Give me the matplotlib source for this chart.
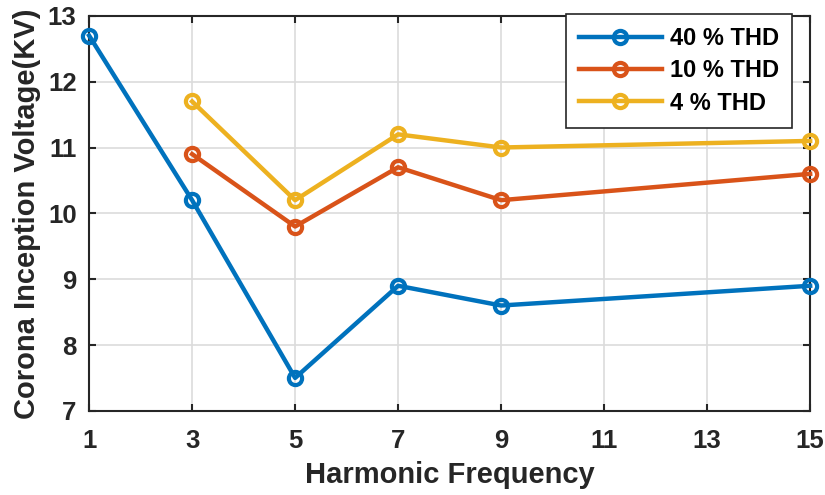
import matplotlib
matplotlib.use("Agg")
import matplotlib.pyplot as plt

plt.rcParams['font.family'] = ['Liberation Sans', 'DejaVu Sans']
plt.rcParams['font.weight'] = 'bold'

x40 = [1, 3, 5, 7, 9, 15]
y40 = [12.7, 10.2, 7.5, 8.9, 8.6, 8.9]
x10 = [3, 5, 7, 9, 15]
y10 = [10.9, 9.8, 10.7, 10.2, 10.6]
x4 = [3, 5, 7, 9, 15]
y4 = [11.7, 10.2, 11.2, 11.0, 11.1]
labels = ['40 % THD', '10 % THD', '4 % THD']
colors = ['#0072BD', '#D95319', '#EDB120']
xticks = [1, 3, 5, 7, 9, 11, 13, 15]
yticks = [7, 8, 9, 10, 11, 12, 13]

fig = plt.figure(figsize=(8.25, 4.95), dpi=100)
ax = fig.add_axes([0.108, 0.170, 0.874, 0.798])

for xs, ys, lab, c in zip([x40, x10, x4], [y40, y10, y4], labels, colors):
    ax.plot(xs, ys, '-o', color=c, lw=3.2, ms=9.5, mew=3, mfc='none', label=lab, zorder=3,
            clip_on=False)

ax.set_xlim(1, 15)
ax.set_ylim(7, 13)
ax.set_xticks(xticks)
ax.set_yticks(yticks)
ax.grid(True, color='#dcdcdc', lw=1.2)
ax.set_axisbelow(True)
for s in ax.spines.values():
    s.set_linewidth(1.5)
    s.set_color('#262626')
ax.tick_params(direction='in', length=5, width=1.5, top=True, right=True,
               labelsize=18.5, colors='#262626')
ax.tick_params(axis='x', pad=13)
ax.tick_params(axis='y', pad=9)
for t in ax.get_xticklabels() + ax.get_yticklabels():
    t.set_fontweight('bold')
ax.set_xlabel('Harmonic Frequency', fontsize=21, fontweight='bold', color='#262626', labelpad=6)
ax.set_ylabel('Corona Inception Voltage(KV)', fontsize=21, fontweight='bold', color='#262626', labelpad=5)

leg = ax.legend(loc='upper right', fontsize=17, frameon=True, fancybox=False,
                edgecolor='#262626', framealpha=1, handlelength=3.5, handletextpad=0.35,
                borderpad=0.55, labelspacing=0.4, borderaxespad=0,
                bbox_to_anchor=(0.975, 1.005))
leg.get_frame().set_linewidth(1.2)
leg.set_zorder(5)
for t in leg.get_texts():
    t.set_fontweight('bold')

fig.savefig('out.png', dpi=100)
